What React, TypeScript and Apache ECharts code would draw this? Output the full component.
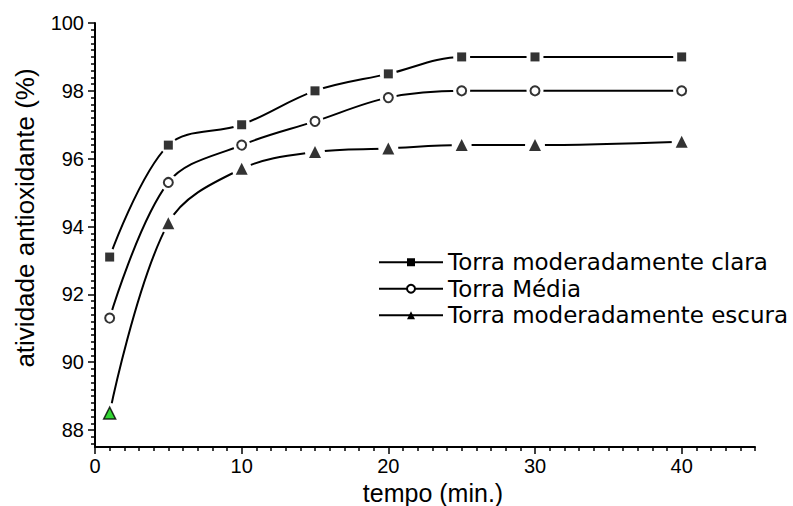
import React, { useEffect, useRef } from "react";
import * as echarts from "echarts";

const xValues = [1, 5, 10, 15, 20, 25, 30, 40];
const claraValues = [93.1, 96.4, 97.0, 98.0, 98.5, 99.0, 99.0, 99.0];
const mediaValues = [91.3, 95.3, 96.4, 97.1, 97.8, 98.0, 98.0, 98.0];
const escuraValues = [88.5, 94.1, 95.7, 96.2, 96.3, 96.4, 96.4, 96.5];
const seriesNames = ["Torra moderadamente clara", "Torra Média", "Torra moderadamente escura"];
const xTickLabels = [0, 10, 20, 30, 40];
const yTickLabels = [88, 90, 92, 94, 96, 98, 100];

const X_MIN = 0, X_MAX = 45, Y_MIN = 87.5, Y_MAX = 100;

const FONT = "'Liberation Sans', Arial, Helvetica, sans-serif";
const LEGEND_FONT = "'DejaVu Sans', 'Liberation Sans', Arial, sans-serif";

function minorTicks(min: number, max: number, step: number, majors: number[]) {
  const out: number[] = [];
  const n = Math.round((max - min) / step);
  for (let i = 0; i <= n; i++) {
    const v = Math.round((min + i * step) * 1000) / 1000;
    if (v < min || v > max) continue;
    if (majors.some((m) => Math.abs(m - v) < 1e-6)) continue;
    out.push(v);
  }
  return out;
}

export default function App() {
  const ref = useRef<HTMLDivElement>(null);
  useEffect(() => {
    if (!ref.current) return;
    const chart = echarts.init(ref.current, undefined, { renderer: "svg" });
    const xMinor = minorTicks(X_MIN, X_MAX, 1, xTickLabels);
    const yMinor = minorTicks(87.6, Y_MAX, 0.2, yTickLabels);

    const defs = [
      { name: seriesNames[0], values: claraValues, symbol: "rect", size: 9, fill: "#000", border: 0 },
      { name: seriesNames[1], values: mediaValues, symbol: "circle", size: 9, fill: "#fff", border: 2 },
      { name: seriesNames[2], values: escuraValues, symbol: "triangle", size: 12, fill: "#000", border: 0 },
    ];

    const series: any[] = [];
    defs.forEach((d) => {
      const data = xValues.map((x, i) => [x, d.values[i]]);
      series.push({
        type: "line",
        name: d.name,
        data,
        smooth: 0.35,
        symbol: d.symbol,
        symbolSize: d.size,
        z: 2,
        lineStyle: { color: "#000", width: 2 },
        itemStyle: { color: d.fill, borderColor: "#000", borderWidth: d.border },
      });
    });
    defs.forEach((d, si) => {
      const data = xValues.map((x, i) => [x, d.values[i]]);
      series.push({
        type: "scatter",
        name: "gap" + si,
        data,
        symbol: "circle",
        symbolSize: d.size + 8,
        z: 5,
        silent: true,
        itemStyle: { color: "#ffffff", opacity: 1, borderWidth: 0 },
      });
    });
    defs.forEach((d, si) => {
      const data = xValues.map((x, i) => [x, d.values[i]]);
      series.push({
        type: "scatter",
        name: "mk" + si,
        data: data.map((p, i) =>
          si === 2 && i === 0
            ? { value: p, itemStyle: { color: "#00cc00", borderColor: "#000", borderWidth: 1.5 } }
            : p
        ),
        symbol: d.symbol,
        symbolSize: d.size,
        z: 8,
        silent: true,
        itemStyle: { color: d.fill, borderColor: "#000", borderWidth: d.border },
      });
    });

    chart.setOption({
      animation: false,
      backgroundColor: "#fff",
      textStyle: { fontFamily: FONT },
      grid: { left: 95, top: 23, right: 38, bottom: 59, containLabel: false, outerBoundsMode: "none" },
      legend: {
        data: seriesNames,
        orient: "vertical",
        left: 373,
        top: 244,
        itemWidth: 64,
        itemHeight: 10,
        itemGap: 0,
        textStyle: { fontSize: 23, lineHeight: 26.5, color: "#000", fontFamily: LEGEND_FONT },
        selectedMode: false,
      },
      xAxis: [
        {
          type: "value",
          min: X_MIN,
          max: X_MAX,
          interval: 10,
          name: "tempo (min.)",
          nameLocation: "middle",
          nameGap: 29,
          nameTextStyle: { fontSize: 25, lineHeight: 25, color: "#000", fontFamily: FONT, padding: [0, 0, 0, 16] },
          axisLine: { show: true, onZero: false, lineStyle: { color: "#000", width: 2 } },
          axisTick: { show: true, length: 7, customValues: xTickLabels, lineStyle: { color: "#000", width: 1.5 } },
          axisLabel: { customValues: xTickLabels, fontSize: 20, color: "#000", margin: 9, fontFamily: FONT },
          splitLine: { show: false },
        },
        {
          type: "value",
          min: X_MIN,
          max: X_MAX,
          position: "bottom",
          axisLine: { show: false },
          axisTick: { show: true, length: 4, customValues: xMinor, lineStyle: { color: "#000", width: 1.5 } },
          axisLabel: { show: false },
          splitLine: { show: false },
        },
      ],
      yAxis: [
        {
          type: "value",
          min: Y_MIN,
          max: Y_MAX,
          position: "left",
          name: "atividade antioxidante (%)",
          nameLocation: "middle",
          nameGap: 57,
          nameTextStyle: { fontSize: 26, color: "#000", fontFamily: FONT, padding: [0, 0, 0, 34] },
          axisLine: { show: true, onZero: false, lineStyle: { color: "#000", width: 2 } },
          axisTick: { show: true, length: 7, customValues: yTickLabels, lineStyle: { color: "#000", width: 1.5 } },
          axisLabel: { customValues: yTickLabels, fontSize: 20, color: "#000", margin: 11, fontFamily: FONT },
          splitLine: { show: false },
        },
        {
          type: "value",
          min: Y_MIN,
          max: Y_MAX,
          position: "left",
          offset: 0,
          axisLine: { show: false },
          axisTick: { show: true, length: 4, customValues: yMinor, lineStyle: { color: "#000", width: 1.5 } },
          axisLabel: { show: false },
          splitLine: { show: false },
        },
      ],
      series,
    });
    return () => chart.dispose();
  }, []);
  return (
    <div
      ref={ref}
      style={{ position: "fixed", left: 0, top: 0, width: 793, height: 506, background: "#fff" }}
    />
  );
}
